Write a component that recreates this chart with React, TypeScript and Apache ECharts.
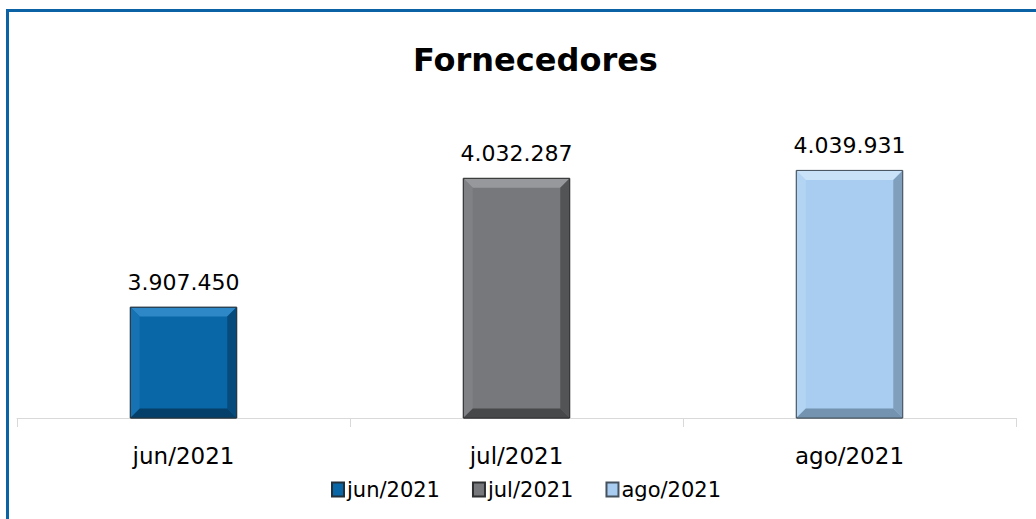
import React, { useEffect, useRef } from "react";
import * as echarts from "echarts";

const categories = ["jun/2021", "jul/2021", "ago/2021"];
const values = [3907450, 4032287, 4039931];
const colors = ["#0A67A7", "#77787B", "#A8CDF0"];
const topBevel = ["#2E88C8", "#97989B", "#C9E2F8"];
const leftBevel = ["#1672B2", "#808184", "#B3D5F3"];
const rightBevel = ["#064B7C", "#535456", "#7F9FBD"];
const bottomBevel = ["#05406A", "#47484A", "#7393B0"];
const borders = ["#23303A", "#2E2F30", "#45525E"];
const yMin = 3800000;
const yMax = 4050000;

const fmt = (v: number) => v.toString().replace(/\B(?=(\d{3})+(?!\d))/g, ".");

export default function App() {
  const ref = useRef<HTMLDivElement>(null);
  useEffect(() => {
    document.body.style.margin = "0";
    const chart = echarts.init(ref.current!, null, { renderer: "svg" });
    const font = "'DejaVu Sans', sans-serif";
    chart.setOption({
      animation: false,
      backgroundColor: "#ffffff",
      textStyle: { fontFamily: font },
      title: {
        text: "Fornecedores",
        left: 408,
        top: 39,
        textStyle: { fontSize: 32, fontWeight: "bold", color: "#000", fontFamily: font },
      },
      graphic: [
        {
          type: "polyline",
          shape: { points: [[7.5, 560], [7.5, 10.5], [1100, 10.5]] },
          style: { stroke: "#0B63A5", lineWidth: 3, fill: "none" },
          silent: true,
        },
      ],
      legend: {
        top: 474,
        left: 326,
        itemWidth: 12,
        itemHeight: 14,
        itemGap: 32,
        icon: "rect",
        textStyle: { fontSize: 21, color: "#000", fontFamily: font, padding: [0, 0, 0, -2] },
        data: categories,
      },
      grid: { left: 17, right: 20, top: 160, bottom: 101, containLabel: false },
      xAxis: {
        type: "category",
        data: categories,
        axisLine: { lineStyle: { color: "#D9D9D9", width: 1 } },
        axisTick: { show: true, length: 9, lineStyle: { color: "#D9D9D9" } },
        axisLabel: { fontSize: 23, color: "#000", margin: 26, fontFamily: font },
      },
      yAxis: {
        type: "value",
        min: yMin,
        max: yMax,
        show: false,
        splitLine: { show: false },
      },
      series: [
        ...categories.map((c, i) => ({
          name: c,
          type: "bar",
          stack: "total",
          barWidth: "32%",
          data: values.map((v, j) => (j === i ? v : "-")),
          itemStyle: {
            color: colors[i],
            borderColor: borders[i],
            borderWidth: 1,
          },
          label: {
            show: true,
            position: "top",
            distance: 14,
            fontSize: 22,
            color: "#000",
            fontFamily: font,
            formatter: (p: any) => fmt(p.value),
          },
        })),
        {
          name: "bevel",
          type: "custom",
          silent: true,
          z: 5,
          data: values.map((v, i) => [i, v]),
          renderItem: (params: any, api: any) => {
            const idx = params.dataIndex;
            const base = api.coord([api.value(0), yMin]);
            const top = api.coord([api.value(0), api.value(1)]);
            const w = api.size([1, 0])[0] * 0.32;
            const x0 = base[0] - w / 2 + 0.5;
            const x1 = base[0] + w / 2 - 0.5;
            const y0 = top[1] + 0.5;
            const y1 = base[1] - 0.5;
            const b = 9;
            const poly = (pts: number[][], fill: string) => ({
              type: "polygon",
              shape: { points: pts },
              style: { fill },
            });
            return {
              type: "group",
              children: [
                poly([[x0, y0], [x1, y0], [x1 - b, y0 + b], [x0 + b, y0 + b]], topBevel[idx]),
                poly([[x0, y0], [x0 + b, y0 + b], [x0 + b, y1 - b], [x0, y1]], leftBevel[idx]),
                poly([[x1, y0], [x1, y1], [x1 - b, y1 - b], [x1 - b, y0 + b]], rightBevel[idx]),
                poly([[x0, y1], [x0 + b, y1 - b], [x1 - b, y1 - b], [x1, y1]], bottomBevel[idx]),
                {
                  type: "rect",
                  shape: { x: x0 - 0.5, y: y0 - 0.5, width: x1 - x0 + 1, height: y1 - y0 + 1 },
                  style: { fill: "none", stroke: borders[idx], lineWidth: 1 },
                },
              ],
            };
          },
        },
      ],
    });
    return () => chart.dispose();
  }, []);
  return <div ref={ref} style={{ width: 1036, height: 519, position: "absolute", left: 0, top: 0 }} />;
}
